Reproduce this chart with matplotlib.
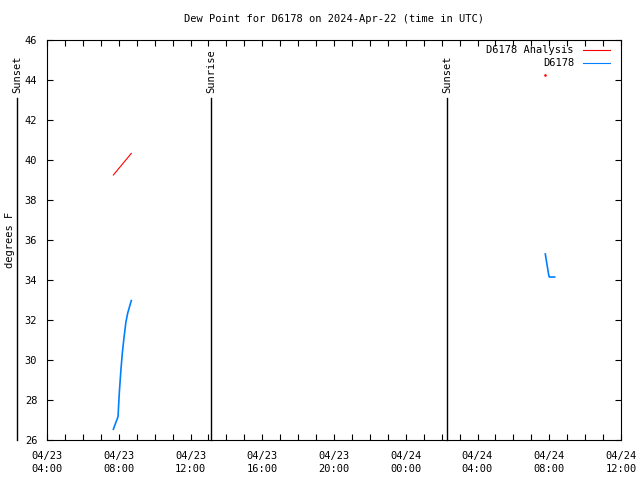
import matplotlib
matplotlib.use("Agg")
import matplotlib.pyplot as plt
from matplotlib.ticker import MultipleLocator

# hours since 2024-04-23 00:00 UTC
analysis_t = [7.70, 8.70]
analysis_v = [39.25, 40.33]
analysis_dot_t = [31.76]
analysis_dot_v = [44.25]

obs1_t = [7.70, 7.96, 8.03, 8.12, 8.20, 8.29, 8.40, 8.50, 8.70]
obs1_v = [26.54, 27.17, 28.35, 29.5, 30.35, 31.1, 31.9, 32.35, 32.97]
obs2_t = [31.78, 31.85, 31.91, 31.96, 32.0, 32.3]
obs2_v = [35.3, 34.9, 34.58, 34.3, 34.15, 34.15]

sun_events = [(2.33, "Sunset"), (13.14, "Sunrise"), (26.30, "Sunset")]

xticks = [4, 8, 12, 16, 20, 24, 28, 32, 36]
xlabels = ["04/23\n04:00", "04/23\n08:00", "04/23\n12:00", "04/23\n16:00",
           "04/23\n20:00", "04/24\n00:00", "04/24\n04:00", "04/24\n08:00",
           "04/24\n12:00"]

FONT = "DejaVu Sans Mono"
FS = 7.5
plt.rcParams['font.family'] = FONT
plt.rcParams['font.size'] = FS

fig = plt.figure(figsize=(6.4, 4.8), dpi=100)
ax = fig.add_axes([47/640, 40/480, 574/640, 400/480])
ax.set_xlim(4, 36)
ax.set_ylim(26, 46)

lw = 0.8
ax.plot(analysis_t, analysis_v, color="#ff0000", lw=lw)
ax.plot(analysis_dot_t, analysis_dot_v, color="#ff0000", marker="s", ms=0.8, lw=0)
ax.plot(obs1_t, obs1_v, color="#0080ff", lw=1.2)
ax.plot(obs2_t, obs2_v, color="#0080ff", lw=1.2)

for t, name in sun_events:
    ax.plot([t, t], [26, 43.1], color="black", lw=1.0, clip_on=False)
    ax.text(t, 43.35, name, rotation=90, ha="center", va="bottom",
            fontsize=FS, clip_on=False)

ax.set_xticks(xticks)
ax.set_xticklabels(xlabels, linespacing=1.3)
ax.xaxis.set_minor_locator(MultipleLocator(1))
ax.set_yticks(list(range(26, 47, 2)))
ax.tick_params(which="both", direction="in", top=True, right=True,
               length=4, width=0.8, labelsize=FS)
ax.tick_params(axis="x", pad=8)
ax.tick_params(axis="y", pad=7)
for s in ax.spines.values():
    s.set_linewidth(0.8)

ax.set_ylabel("degrees F", fontsize=FS)
ax.yaxis.set_label_coords((15 - 47) / 574, 0.5)
ax.set_title("Dew Point for D6178 on 2024-Apr-22 (time in UTC)",
             fontsize=FS, pad=13)

# legend (gnuplot style: right aligned text, sample line right)
tr = ax.transAxes
def px(xp, yp):
    return ((xp - 47) / 574, (440 - yp) / 400)
for yp, label, col in [(50, "D6178 Analysis", "#ff0000"), (63, "D6178", "#0080ff")]:
    x0, y0 = px(574, yp)
    ax.text(x0, y0, label, transform=tr, ha="right", va="center", fontsize=FS)
    xa, _ = px(583, yp)
    xb, _ = px(610, yp)
    ax.plot([xa, xb], [y0, y0], transform=tr, color=col, lw=lw)

fig.savefig("out.png", dpi=100)
